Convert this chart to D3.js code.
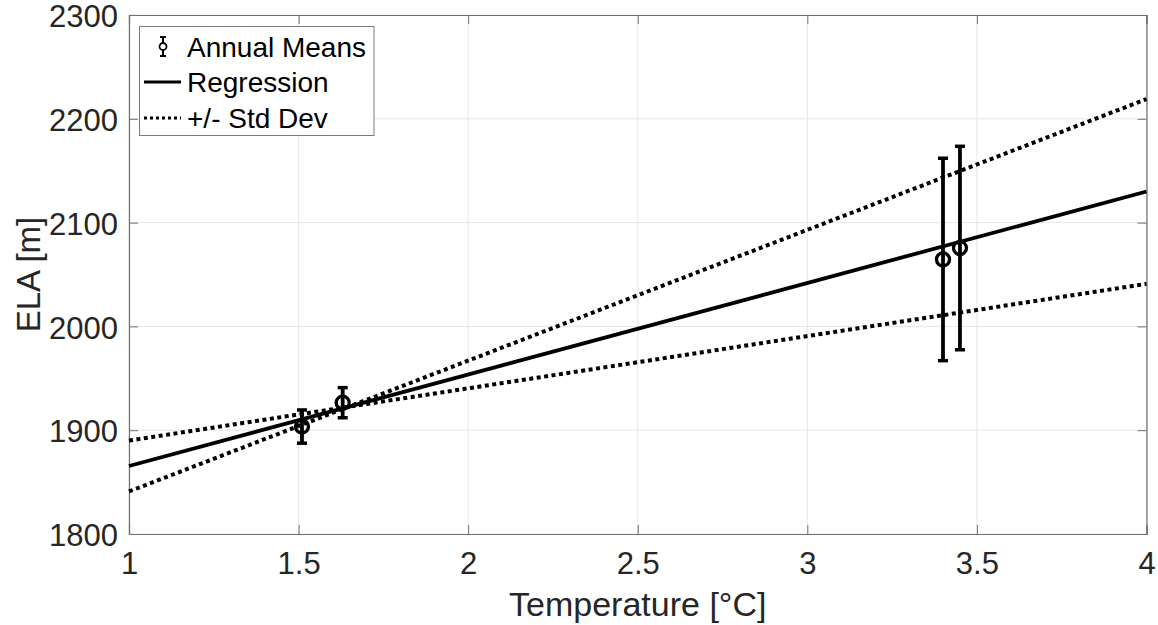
<!DOCTYPE html>
<html>
<head>
<meta charset="utf-8">
<script src="https://cdn.jsdelivr.net/npm/d3@7"></script>
<style>
  body { margin: 0; background: #fff; }
  text { font-family: "Liberation Sans", Arial, Helvetica, sans-serif; fill: #262626; }
</style>
</head>
<body>
<div id="chart"></div>
<script>
// annual means with error bars
var meanTemp = [1.51, 1.63, 3.40, 3.45];
var meanEla = [1903.5, 1926.5, 2064.5, 2075.5];
var meanErr = [16, 14.5, 97.5, 98];

// regression and +/- std dev lines (end points at x = 1 and x = 4)
var lineTemp = [1, 4];
var regressionEla = [1865.5, 2130];
var stdSteepEla = [1841, 2219];
var stdShallowEla = [1890, 2041];

var xTicks = [1, 1.5, 2, 2.5, 3, 3.5, 4];
var yTicks = [1800, 1900, 2000, 2100, 2200, 2300];

var width = 1158, height = 625;
var margin = {left: 129, right: 11.5, top: 15, bottom: 91};
var innerW = width - margin.left - margin.right;
var innerH = height - margin.top - margin.bottom;

var svg = d3.select("#chart").append("svg")
  .attr("width", width)
  .attr("height", height);

var g = svg.append("g")
  .attr("transform", "translate(" + margin.left + "," + margin.top + ")");

var x = d3.scaleLinear().domain([1, 4]).range([0, innerW]);
var y = d3.scaleLinear().domain([1800, 2300]).range([innerH, 0]);

// grid
g.append("g").selectAll("line").data(xTicks).enter().append("line")
  .attr("x1", d => x(d)).attr("x2", d => x(d))
  .attr("y1", 0).attr("y2", innerH)
  .attr("stroke", "#e6e6e6").attr("stroke-width", 1);
g.append("g").selectAll("line").data(yTicks).enter().append("line")
  .attr("x1", 0).attr("x2", innerW)
  .attr("y1", d => y(d)).attr("y2", d => y(d))
  .attr("stroke", "#e6e6e6").attr("stroke-width", 1);

// axes (ticks inward, box on)
var axisColor = "#707070";
var xAxis = g.append("g")
  .attr("transform", "translate(0," + innerH + ")")
  .call(d3.axisBottom(x).tickValues(xTicks).tickSize(-9).tickPadding(18).tickFormat(d3.format("")));
var yAxis = g.append("g")
  .call(d3.axisLeft(y).tickValues(yTicks).tickSize(-9).tickPadding(11).tickFormat(d3.format("")));
g.append("g")
  .call(d3.axisTop(x).tickValues(xTicks).tickSize(-9).tickFormat(""));
g.append("g")
  .attr("transform", "translate(" + innerW + ",0)")
  .call(d3.axisRight(y).tickValues(yTicks).tickSize(-9).tickFormat(""));

g.selectAll(".domain").attr("stroke", axisColor).attr("stroke-width", 1.2);
g.selectAll(".tick line").attr("stroke", axisColor).attr("stroke-width", 1);
g.selectAll(".tick text").attr("font-size", 31).style("fill", "#262626");
yAxis.selectAll(".tick text").attr("dy", "0.38em");

// lines
var line = d3.line().x(d => x(d[0])).y(d => y(d[1]));
function pairs(ys) { return lineTemp.map((t, i) => [t, ys[i]]); }

var plot = g.append("g");
plot.append("path").datum(pairs(stdSteepEla)).attr("d", line)
  .attr("fill", "none").attr("stroke", "#000").attr("stroke-width", 4).attr("stroke-dasharray", "4,3.5");
plot.append("path").datum(pairs(stdShallowEla)).attr("d", line)
  .attr("fill", "none").attr("stroke", "#000").attr("stroke-width", 4).attr("stroke-dasharray", "4,3.5");
plot.append("path").datum(pairs(regressionEla)).attr("d", line)
  .attr("fill", "none").attr("stroke", "#000").attr("stroke-width", 3.8);

// error bars
var means = meanTemp.map((t, i) => ({t: t, e: meanEla[i], err: meanErr[i]}));
var eb = plot.selectAll(".eb").data(means).enter().append("g").attr("class", "eb");
eb.append("line")
  .attr("x1", d => x(d.t)).attr("x2", d => x(d.t))
  .attr("y1", d => y(d.e - d.err)).attr("y2", d => y(d.e + d.err))
  .attr("stroke", "#000").attr("stroke-width", 3.8);
eb.append("line")
  .attr("x1", d => x(d.t) - 5).attr("x2", d => x(d.t) + 5)
  .attr("y1", d => y(d.e + d.err)).attr("y2", d => y(d.e + d.err))
  .attr("stroke", "#000").attr("stroke-width", 3.5);
eb.append("line")
  .attr("x1", d => x(d.t) - 5).attr("x2", d => x(d.t) + 5)
  .attr("y1", d => y(d.e - d.err)).attr("y2", d => y(d.e - d.err))
  .attr("stroke", "#000").attr("stroke-width", 3.5);
eb.append("circle")
  .attr("cx", d => x(d.t)).attr("cy", d => y(d.e)).attr("r", 6.5)
  .attr("fill", "none").attr("stroke", "#000").attr("stroke-width", 3.3);

// axis labels
svg.append("text")
  .attr("x", margin.left + innerW / 2).attr("y", 616)
  .attr("text-anchor", "middle").attr("font-size", 34)
  .text("Temperature [°C]");
svg.append("text")
  .attr("transform", "translate(40," + (margin.top + innerH / 2) + ") rotate(-90)")
  .attr("text-anchor", "middle").attr("font-size", 33)
  .text("ELA [m]");

// legend
var lg = svg.append("g");
lg.append("rect")
  .attr("x", 139.5).attr("y", 26.5).attr("width", 234.5).attr("height", 109)
  .attr("fill", "#fff").attr("stroke", "#7a7a7a").attr("stroke-width", 1);
var rows = [46.5, 82, 118];
var ix = 163;
lg.append("line").attr("x1", ix).attr("x2", ix).attr("y1", rows[0] - 9.5).attr("y2", rows[0] + 9.5)
  .attr("stroke", "#000").attr("stroke-width", 2);
lg.append("line").attr("x1", ix - 3).attr("x2", ix + 3).attr("y1", rows[0] - 9.5).attr("y2", rows[0] - 9.5)
  .attr("stroke", "#000").attr("stroke-width", 2);
lg.append("line").attr("x1", ix - 3).attr("x2", ix + 3).attr("y1", rows[0] + 9.5).attr("y2", rows[0] + 9.5)
  .attr("stroke", "#000").attr("stroke-width", 2);
lg.append("circle").attr("cx", ix).attr("cy", rows[0]).attr("r", 3.5)
  .attr("fill", "#fff").attr("stroke", "#000").attr("stroke-width", 1.8);
lg.append("line").attr("x1", 144).attr("x2", 181).attr("y1", rows[1]).attr("y2", rows[1])
  .attr("stroke", "#000").attr("stroke-width", 3);
lg.append("line").attr("x1", 144).attr("x2", 181).attr("y1", rows[2]).attr("y2", rows[2])
  .attr("stroke", "#000").attr("stroke-width", 3).attr("stroke-dasharray", "3,3");
var labels = ["Annual Means", "Regression", "+/- Std Dev"];
lg.selectAll(".lt").data(labels).enter().append("text")
  .attr("x", 187).attr("y", (d, i) => rows[i]).attr("dy", "0.36em")
  .attr("font-size", 28).style("fill", "#000")
  .text(d => d);
</script>
</body>
</html>
